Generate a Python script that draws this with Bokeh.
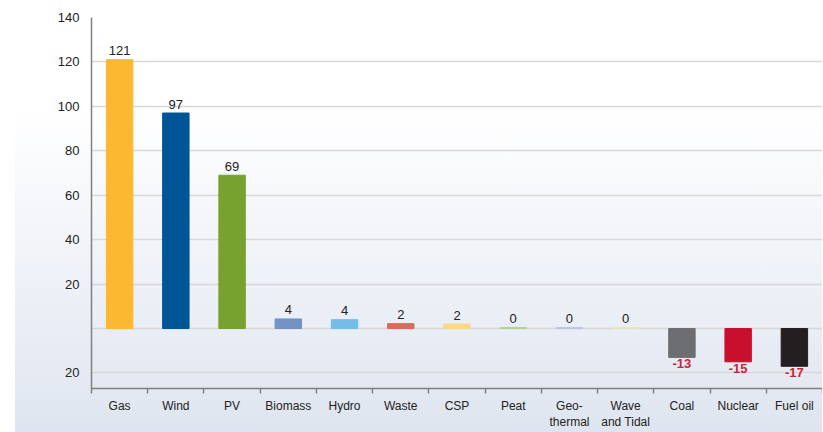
from bokeh.plotting import figure
from bokeh.models import ColumnDataSource, Range1d, FixedTicker
from bokeh.core.properties import value
from bokeh.embed import file_html
from bokeh.resources import INLINE

categories = ["Gas", "Wind", "PV", "Biomass", "Hydro", "Waste", "CSP", "Peat",
              "Geo-\nthermal", "Wave\nand Tidal", "Coal", "Nuclear", "Fuel oil"]
values = [121, 97, 69, 4.3, 4.0, 2.2, 2.0, 0.45, 0.4, 0.35, -13, -15, -17]
colors = ["#FBB830", "#005596", "#77A22F", "#7592C4", "#74BDE9", "#E0695A", "#FDD985",
          "#B9D18F", "#B7C4E3", "#E4E8B5", "#6D6E71", "#C8102E", "#231F20"]
y_ticks = [-20, 20, 40, 60, 80, 100, 120, 140]
y_grid = [-20, 0, 20, 40, 60, 80, 100, 120, 140]

FONT = "Liberation Sans"
n = len(categories)
xs = list(range(n))
labels = [f"{round(v)}" for v in values]

p = figure(width=822, height=432, output_backend="svg", toolbar_location=None,
           x_range=Range1d(-0.5, n - 0.5), y_range=Range1d(-27, 140),
           min_border_left=91, min_border_right=0, min_border_top=17, min_border_bottom=42)
p.background_fill_alpha = 0
p.border_fill_alpha = 0
p.outline_line_color = None
p.styles = {
    "background-image": "linear-gradient(to bottom, #ffffff 0%, #ffffff 25%, #dfe5f0 100%)",
    "background-repeat": "no-repeat",
    "background-position": "15px 0px",
    "background-size": "calc(100% - 15px) 100%",
}

src = ColumnDataSource(dict(x=xs, top=values, color=colors, label=labels))
p.vbar(x="x", top="top", bottom=0, width=0.47, color="color", source=src)

pos = ColumnDataSource(dict(x=[x for x, v in zip(xs, values) if v >= 0],
                            y=[v for v in values if v >= 0],
                            t=[l for l, v in zip(labels, values) if v >= 0]))
neg = ColumnDataSource(dict(x=[x for x, v in zip(xs, values) if v < 0],
                            y=[v for v in values if v < 0],
                            t=[l for l, v in zip(labels, values) if v < 0]))
p.text(x="x", y="y", text="t", source=pos, text_align="center", text_baseline="alphabetic",
       y_offset=-9, text_font=value(FONT), text_font_size="13px", text_color="#222222")
p.text(x="x", y="y", text="t", source=neg, text_align="center", text_baseline="top",
       y_offset=2, text_font=value(FONT), text_font_size="13px", text_color="#C8243A",
       text_font_style="bold")

# axes
p.xaxis.ticker = FixedTicker(ticks=xs, minor_ticks=[x - 0.5 for x in xs] + [n - 0.5])
p.xaxis.major_label_overrides = {x: c for x, c in zip(xs, categories)}
p.xaxis.major_tick_line_color = None
p.xaxis.minor_tick_in = 0
p.xaxis.minor_tick_out = 5
p.xaxis.minor_tick_line_color = "#808080"
p.xaxis.minor_tick_line_width = 1.5
p.xaxis.axis_line_color = "#808080"
p.xaxis.axis_line_width = 1.5
p.xaxis.major_label_standoff = 4
p.xaxis.major_label_text_font = FONT
p.xaxis.major_label_text_font_size = "12px"
p.xaxis.major_label_text_color = "#222222"

p.yaxis.ticker = FixedTicker(ticks=y_ticks)
p.yaxis.major_label_overrides = {-20: "20"}
p.yaxis.major_tick_line_color = None
p.yaxis.major_tick_out = 0
p.yaxis.minor_tick_line_color = None
p.yaxis.axis_line_color = "#808080"
p.yaxis.axis_line_width = 1.5
p.yaxis.major_label_standoff = 12
p.yaxis.major_label_text_font = FONT
p.yaxis.major_label_text_font_size = "13px"
p.yaxis.major_label_text_color = "#222222"

p.xgrid.grid_line_color = None
p.ygrid.ticker = FixedTicker(ticks=y_grid)
p.ygrid.grid_line_color = "#D8D8D8"
p.ygrid.grid_line_width = 1.5

open("out.html", "w").write(file_html(p, INLINE))
